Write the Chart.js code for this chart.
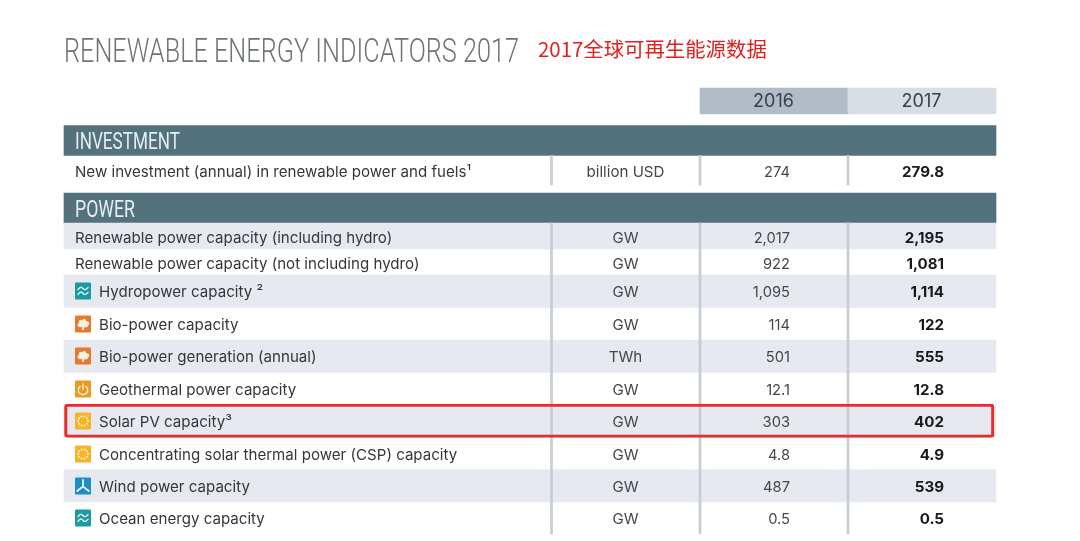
<!DOCTYPE html>
<html><head><meta charset="utf-8">
<style>html,body{margin:0;padding:0;background:#fff}canvas{display:block}</style>
<script src="https://cdn.jsdelivr.net/npm/chart.js@4"></script>
</head><body><canvas id="c" width="1080" height="541"></canvas>
<script>
// ---- data ----
const chartTitle = "RENEWABLE ENERGY INDICATORS 2017";
const chartSubtitle = "2017全球可再生能源数据";
const years = ["2016", "2017"];
const sections = ["INVESTMENT", "POWER"];
const rowLabels = [
  "New investment (annual) in renewable power and fuels¹",
  "Renewable power capacity (including hydro)",
  "Renewable power capacity (not including hydro)",
  "Hydropower capacity ²",
  "Bio-power capacity",
  "Bio-power generation (annual)",
  "Geothermal power capacity",
  "Solar PV capacity³",
  "Concentrating solar thermal power (CSP) capacity",
  "Wind power capacity",
  "Ocean energy capacity"
];
const rowUnits = ["billion USD","GW","GW","GW","GW","TWh","GW","GW","GW","GW","GW"];
const values2016 = [274, 2017, 922, 1095, 114, 501, 12.1, 303, 4.8, 487, 0.5];
const values2017 = [279.8, 2195, 1081, 1114, 122, 555, 12.8, 402, 4.9, 539, 0.5];
const rowIcons = [null,null,null,"water","bio","bio","geo","sun","sun","wind","water"];

// ---- layout of the table (canvas-sized scales) ----
const rowEdges = [[155,185],[223,249],[249,275],[275,307.5],[307.5,340],[340,372.5],[372.5,405],[405,437],[437,469.5],[469.5,502],[502,534]];
const rowCenters = [171,237,263,291,324,356,389,421,454,486,518];
const shaded = [false,true,false,true,false,true,false,true,false,true,false];
const sectionEdges = [[125.5,155.5],[193,223]];
const tableX = [64,996], colX = {sep1:551.5, sep2:700, sep3:848};
const font = '"Inter","Noto Sans",sans-serif';

const band = (x0,x1,y0,y1,color,extra={}) => ({
  data:[{x:[x0,x1],y:(y0+y1)/2}],
  backgroundColor:color, barThickness:y1-y0, borderWidth:0, borderSkipped:false, grouped:false, ...extra
});
const datasets = [];
datasets.push(band(700,848,88,114,"#b2bcc8"));
datasets.push(band(848,996,88,114,"#d9dee4"));
sectionEdges.forEach(e=>datasets.push(band(tableX[0],tableX[1],e[0],e[1],"#54727e")));
rowEdges.forEach((e,i)=>{ if(shaded[i]) datasets.push(band(tableX[0],tableX[1],e[0],e[1],"#e6e9ef")); });
[colX.sep1,colX.sep2,colX.sep3].forEach(x=>{
  datasets.push(band(x-1,x+1,155.5,185,"#c6cdd5"));
  datasets.push(band(x-1,x+1,223,534,"#c6cdd5"));
});
datasets.push(band(64.5,994,404,437.5,"rgba(0,0,0,0)",{borderColor:"#e42f2c",borderWidth:2.5,borderRadius:3}));
datasets.reverse(); // Chart.js paints the first dataset last

function roundRect(ctx,x,y,w,h,r,color){
  ctx.fillStyle=color; ctx.beginPath(); ctx.roundRect(x,y,w,h,r); ctx.fill();
}
function drawIcon(ctx,kind,px,cy){
  const x=px, y=cy-8.5, s=16, h=17, cx=x+s/2, my=cy;
  ctx.save();
  ctx.strokeStyle="#fff"; ctx.fillStyle="#fff"; ctx.lineCap="round";
  if(kind==="water"){
    roundRect(ctx,x,y,s,h,1,"#1a9aa2");
    ctx.strokeStyle="#e8f6f6"; ctx.lineWidth=1.4;
    [my-2.4,my+2.4].forEach(w=>{
      ctx.beginPath(); ctx.moveTo(x+3,w+1);
      ctx.bezierCurveTo(x+5.5,w-2.5,x+7,w-1.5,cx,w);
      ctx.bezierCurveTo(x+9.5,w+1.5,x+11,w+1.5,x+13,w-1);
      ctx.stroke();
    });
  } else if(kind==="bio"){
    roundRect(ctx,x,y,s,h,1,"#e8782b");
    ctx.fillStyle="#fbeee2"; ctx.beginPath();
    ctx.moveTo(cx-1,my+6);
    ctx.lineTo(cx-1,my+3);
    ctx.bezierCurveTo(cx-7,my+4,cx-6,my-1,cx-4,my-1);
    ctx.bezierCurveTo(cx-5,my-4,cx-2,my-5,cx-1,my-3.5);
    ctx.bezierCurveTo(cx,my-6,cx+4,my-5,cx+3,my-3);
    ctx.bezierCurveTo(cx+7,my-3,cx+7,my+1,cx+5,my+1.5);
    ctx.bezierCurveTo(cx+5,my+4,cx+2,my+3.5,cx+1,my+3);
    ctx.lineTo(cx+1,my+6); ctx.closePath(); ctx.fill();
  } else if(kind==="geo"){
    roundRect(ctx,x,y,s,h,1,"#ec9a20");
    ctx.strokeStyle="#fdf1dc"; ctx.lineWidth=1.5;
    ctx.beginPath(); ctx.arc(cx,my+1,4.6,-Math.PI*0.28,Math.PI*1.28); ctx.stroke();
    ctx.beginPath(); ctx.moveTo(cx,my-5); ctx.lineTo(cx,my); ctx.stroke();
  } else if(kind==="sun"){
    roundRect(ctx,x,y,s,h,1,"#f6b426");
    ctx.fillStyle="#fff6dc";
    for(let a=0;a<10;a++){
      const t=a*Math.PI/5;
      ctx.beginPath(); ctx.arc(cx+4.8*Math.cos(t),my+4.8*Math.sin(t),1,0,7); ctx.fill();
    }
  } else if(kind==="wind"){
    roundRect(ctx,x,y,s,h,1,"#1e8ccb");
    ctx.strokeStyle="#eef7fc"; ctx.lineWidth=1.8;
    ctx.beginPath(); ctx.moveTo(cx,my+0.5); ctx.lineTo(cx,my-6);
    ctx.moveTo(cx,my+0.5); ctx.lineTo(cx-5.8,my+5);
    ctx.moveTo(cx,my+0.5); ctx.lineTo(cx+5.8,my+5); ctx.stroke();
  }
  ctx.restore();
}
const fmt = v => v.toLocaleString("en-US");

const tablePlugin = {
  id:"tableText",
  afterDatasetsDraw(chart){
    const {ctx,scales:{x:sx,y:sy}}=chart;
    ctx.save();
    ctx.textBaseline="alphabetic"; ctx.textAlign="left";
    // titles
    ctx.fillStyle="#6e7478"; ctx.font='300 33px Roboto,sans-serif';
    ctx.fillText(chartTitle,sx.getPixelForValue(64),sy.getPixelForValue(62),455);
    ctx.fillStyle="#e0201c"; ctx.font='400 20.4px "Noto Sans CJK SC",sans-serif';
    ctx.fillText(chartSubtitle,sx.getPixelForValue(538),sy.getPixelForValue(57));
    // years
    ctx.textAlign="center"; ctx.fillStyle="#3c4046"; ctx.font='400 18px '+font;
    ctx.fillText(years[0],sx.getPixelForValue(773.5),sy.getPixelForValue(107));
    ctx.fillText(years[1],sx.getPixelForValue(921.5),sy.getPixelForValue(107));
    // sections
    ctx.textAlign="left"; ctx.fillStyle="#e6eef0"; ctx.font='400 23px Roboto,sans-serif';
    ctx.fillText(sections[0],sx.getPixelForValue(75),sy.getPixelForValue(149),105);
    ctx.fillText(sections[1],sx.getPixelForValue(75),sy.getPixelForValue(216.5),60);
    // rows
    rowLabels.forEach((label,i)=>{
      const yc=sy.getPixelForValue(rowCenters[i]), yb=yc+5.5;
      const kind=rowIcons[i];
      if(kind) drawIcon(ctx,kind,sx.getPixelForValue(75),yc);
      ctx.textAlign="left"; ctx.fillStyle="#33373c"; ctx.font='400 15.1px '+font;
      ctx.fillText(label,sx.getPixelForValue(kind?99:75),yb);
      ctx.textAlign="center"; ctx.fillStyle="#43474c";
      ctx.fillText(rowUnits[i],sx.getPixelForValue(625.5),yb);
      ctx.textAlign="right"; ctx.font='400 14.7px '+font;
      ctx.fillText(fmt(values2016[i]),sx.getPixelForValue(790),yb);
      ctx.fillStyle="#17191c"; ctx.font='700 15.1px '+font;
      ctx.fillText(fmt(values2017[i]),sx.getPixelForValue(944),yb);
    });
    ctx.restore();
  }
};

new Chart(document.getElementById("c"),{
  type:"bar",
  data:{datasets},
  plugins:[tablePlugin],
  options:{
    indexAxis:"y", responsive:false, animation:false,
    layout:{padding:0},
    plugins:{legend:{display:false},tooltip:{enabled:false},title:{display:false}},
    scales:{
      x:{type:"linear",min:0,max:1080,display:false,offset:false},
      y:{type:"linear",min:0,max:541,reverse:true,display:false,offset:false}
    }
  }
});
</script></body></html>
